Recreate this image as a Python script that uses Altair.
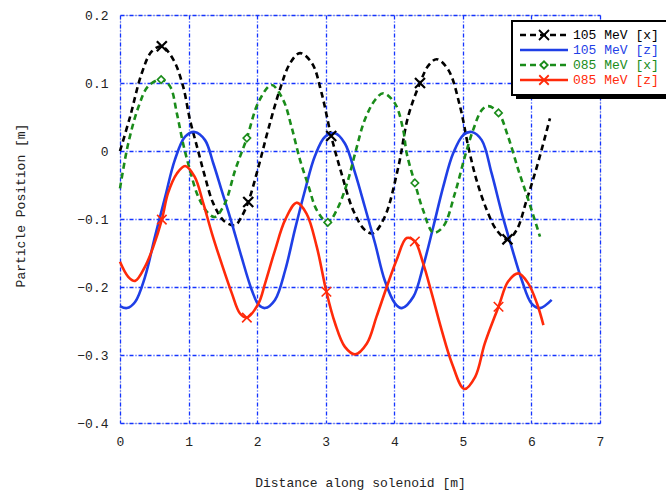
import altair as alt
import pandas as pd

series_names = ["105 MeV [x]", "105 MeV [z]", "085 MeV [x]", "085 MeV [z]"]
series_colors = ["#000000", "#1f3fe6", "#1a8c1a", "#ff2a0a"]

# 105 MeV [x]
bx_x = [0.0, 0.146, 0.316, 0.46, 0.61, 0.78, 0.92, 1.02, 1.14, 1.24, 1.36, 1.53, 1.68, 1.77, 1.87, 2.02,
        2.16, 2.33, 2.48, 2.625, 2.80, 2.94, 3.08, 3.23, 3.40, 3.57, 3.69, 3.86, 4.06,
        4.20, 4.375, 4.50, 4.62, 4.79, 4.96, 5.08, 5.20, 5.35, 5.49, 5.65, 5.785, 5.93, 6.08, 6.27]
bx_y = [0.0, 0.05, 0.114, 0.146, 0.154, 0.134, 0.095, 0.046, 0.0, -0.038, -0.077, -0.104, -0.109, -0.097, -0.075, -0.023,
        0.031, 0.09, 0.129, 0.144, 0.129, 0.085, 0.022, -0.033, -0.087, -0.116, -0.121, -0.097, -0.023,
        0.05, 0.10, 0.126, 0.135, 0.119, 0.065, 0.006, -0.043, -0.087, -0.116, -0.13, -0.116, -0.072, -0.023, 0.048]

# 105 MeV [z]
bz_x = [0.0, 0.10, 0.22, 0.365, 0.51, 0.66, 0.80, 0.95, 1.09, 1.24, 1.36, 1.48, 1.63, 1.77, 1.92, 2.02,
        2.115, 2.26, 2.41, 2.55, 2.70, 2.84, 2.99, 3.135, 3.28, 3.43, 3.57, 3.72, 3.86, 4.01, 4.11,
        4.28, 4.42, 4.57, 4.715, 4.86, 5.01, 5.13, 5.275, 5.42, 5.57, 5.71, 5.86, 6.00, 6.125, 6.295]
bz_y = [-0.228, -0.231, -0.222, -0.185, -0.126, -0.067, -0.013, 0.021, 0.028, 0.016, -0.018, -0.057, -0.106, -0.155, -0.204, -0.226,
        -0.231, -0.219, -0.175, -0.116, -0.057, -0.008, 0.021, 0.026, 0.011, -0.033, -0.082, -0.136, -0.19, -0.224, -0.231,
        -0.214, -0.17, -0.111, -0.052, -0.003, 0.024, 0.028, 0.016, -0.033, -0.092, -0.141, -0.19, -0.224, -0.231, -0.219]

# 085 MeV [x]
gx_x = [0.0, 0.12, 0.27, 0.41, 0.60, 0.73, 0.83, 0.92, 1.02, 1.14, 1.29, 1.385, 1.53, 1.68, 1.85, 2.02,
        2.21, 2.38, 2.50, 2.625, 2.75, 2.87, 3.03, 3.16, 3.31, 3.43, 3.57, 3.72, 3.84, 4.01, 4.13,
        4.18, 4.30, 4.42, 4.57, 4.715, 4.885, 5.03, 5.15, 5.275, 5.37, 5.52, 5.66, 5.81, 5.955, 6.125]
gx_y = [-0.055, 0.011, 0.065, 0.095, 0.105, 0.095, 0.055, 0.011, -0.028, -0.067, -0.092, -0.097, -0.077, -0.028, 0.019, 0.072,
        0.097, 0.075, 0.036, -0.013, -0.052, -0.087, -0.105, -0.087, -0.048, -0.003, 0.046, 0.075, 0.085, 0.070, 0.031,
        -0.003, -0.047, -0.087, -0.12, -0.111, -0.062, -0.008, 0.031, 0.060, 0.066, 0.056, 0.021, -0.028, -0.072, -0.126]

# 085 MeV [z]
gz_x = [0.0, 0.12, 0.22, 0.365, 0.485, 0.61, 0.70, 0.83, 0.95, 1.09, 1.215, 1.34, 1.48, 1.63, 1.75, 1.85, 2.02,
        2.115, 2.26, 2.41, 2.575, 2.72, 2.87, 3.01, 3.135, 3.28, 3.43, 3.60, 3.74, 3.89, 4.035, 4.18,
        4.30, 4.42, 4.545, 4.69, 4.84, 5.02, 5.18, 5.32, 5.52, 5.66, 5.81, 5.955, 6.08, 6.175]
gz_y = [-0.163, -0.185, -0.191, -0.170, -0.141, -0.101, -0.062, -0.033, -0.022, -0.038, -0.077, -0.121, -0.165, -0.209, -0.239, -0.245, -0.224,
        -0.195, -0.146, -0.101, -0.076, -0.092, -0.141, -0.207, -0.253, -0.288, -0.299, -0.283, -0.244, -0.20, -0.16, -0.128,
        -0.133, -0.165, -0.209, -0.263, -0.312, -0.350, -0.332, -0.283, -0.229, -0.192, -0.18, -0.195, -0.224, -0.256]

# marker positions
mk_bx_x = [0.61, 1.87, 3.08, 4.375, 5.65]
mk_bx_y = [0.154, -0.075, 0.022, 0.10, -0.13]
mk_gx_x = [0.60, 1.85, 3.03, 4.30, 5.52]
mk_gx_y = [0.105, 0.019, -0.105, -0.047, 0.056]
mk_gz_x = [0.61, 1.85, 3.01, 4.30, 5.52]
mk_gz_y = [-0.101, -0.245, -0.207, -0.133, -0.229]

x_ticks = [0, 1, 2, 3, 4, 5, 6, 7]
y_ticks = [-0.4, -0.3, -0.2, -0.1, 0.0, 0.1, 0.2]

FONT = "Liberation Mono"
GRID_BLUE = "#1434ff"
X_SHAPE = "M-1,-1L1,1M-1,1L1,-1"

xs = alt.X("x:Q", scale=alt.Scale(domain=[0, 7], nice=False, zero=False),
           axis=alt.Axis(values=x_ticks, title="Distance along solenoid [m]", grid=True,
                         gridColor=GRID_BLUE, gridOpacity=1, gridDash=[4, 2, 1, 2], gridWidth=1.3,
                         domain=False, ticks=False, labelPadding=12, labelFontSize=13,
                         labelFont=FONT, labelColor="#222", titleFont=FONT, titleFontSize=13,
                         titleFontWeight="normal", titleColor="#222", titleBaseline="middle",
                         titleY=59, labelFlush=False))
ys = alt.Y("y:Q", scale=alt.Scale(domain=[-0.4, 0.2], nice=False, zero=False),
           axis=alt.Axis(values=y_ticks, title="Particle Position [m]", grid=True,
                         gridColor=GRID_BLUE, gridOpacity=1, gridDash=[4, 2, 1, 2], gridWidth=1.3,
                         domain=False, ticks=False, labelPadding=12, labelFontSize=13,
                         labelFont=FONT, labelColor="#222", titleFont=FONT, titleFontSize=13,
                         titleFontWeight="normal", titleColor="#222", titleBaseline="middle",
                         titleX=-100, titleY=190, titleAngle=-90,
                         labelExpr="datum.value == 0 ? '0' : format(datum.value, '.1f')",
                         labelFlush=False))


def line_layer(xv, yv, color, dash):
    df = pd.DataFrame({"x": xv, "y": yv})
    kw = dict(color=color, strokeWidth=2.6, interpolate="catmull-rom")
    if dash:
        kw["strokeDash"] = [6, 4]
    return alt.Chart(df).mark_line(**kw).encode(x=xs, y=ys, order=alt.Order("x:Q"))


def marker_layer(xv, yv, color, shape, size, sw):
    df = pd.DataFrame({"x": xv, "y": yv})
    return alt.Chart(df).mark_point(shape=shape, size=size, stroke=color, fill="white", filled=False,
                                    fillOpacity=1, strokeWidth=sw, opacity=1).encode(x=xs, y=ys)


layers = [
    line_layer(bx_x, bx_y, series_colors[0], True),
    line_layer(bz_x, bz_y, series_colors[1], False),
    line_layer(gx_x, gx_y, series_colors[2], True),
    line_layer(gz_x, gz_y, series_colors[3], False),
    marker_layer(mk_bx_x, mk_bx_y, series_colors[0], X_SHAPE, 100, 2.2),
    marker_layer(mk_gx_x, mk_gx_y, series_colors[2], "diamond", 55, 1.6),
    marker_layer(mk_gz_x, mk_gz_y, series_colors[3], X_SHAPE, 90, 1.6),
]

# legend (drawn manually)
one = pd.DataFrame({"k": [0]})
layers.append(alt.Chart(one).mark_rect(color="black").encode(
    x=alt.value(396), x2=alt.value(570), y=alt.value(10), y2=alt.value(84)))
layers.append(alt.Chart(one).mark_rect(fill="white", stroke="black", strokeWidth=2).encode(
    x=alt.value(392), x2=alt.value(566), y=alt.value(6), y2=alt.value(80)))

dashes = [True, False, True, False]
mshapes = [X_SHAPE, None, "diamond", X_SHAPE]
msizes = [100, 0, 55, 90]
for i, name in enumerate(series_names):
    yy = 20 + 15 * i
    kw = dict(color=series_colors[i], strokeWidth=2.6)
    if dashes[i]:
        kw["strokeDash"] = [6, 4]
    layers.append(alt.Chart(one).mark_rule(**kw).encode(
        x=alt.value(400), x2=alt.value(448), y=alt.value(yy)))
    if mshapes[i] is not None:
        layers.append(alt.Chart(one).mark_point(
            shape=mshapes[i], size=msizes[i], stroke=series_colors[i], fill="white", filled=False,
            fillOpacity=1, strokeWidth=1.8, opacity=1).encode(x=alt.value(424), y=alt.value(yy)))
    layers.append(alt.Chart(one).mark_text(
        align="left", baseline="middle", font=FONT, fontSize=13, color=series_colors[i]).encode(
        x=alt.value(453), y=alt.value(yy), text=alt.value(name)))

chart = alt.layer(*layers).properties(
    width=480, height=408,
    autosize=alt.AutoSizeParams(type="none"),
    padding={"left": 120, "top": 15, "right": 66, "bottom": 68},
).configure_view(stroke="#1f3fe6", strokeWidth=2.2).configure(background="white")

chart.save("out.html", embed_options={"renderer": "svg", "actions": False})
